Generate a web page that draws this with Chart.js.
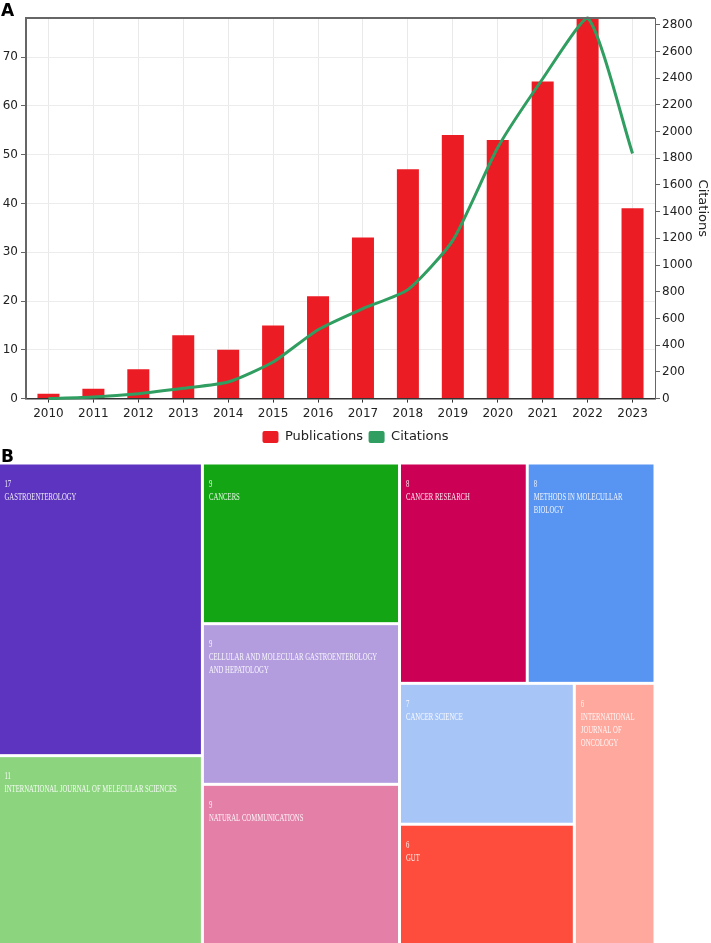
<!DOCTYPE html>
<html>
<head>
<meta charset="utf-8">
<script src="https://cdn.jsdelivr.net/npm/chart.js@4.4.0/dist/chart.umd.min.js"></script>
<style>
  html, body { margin: 0; padding: 0; background: #fff; }
  body { width: 711px; height: 943px; position: relative; overflow: hidden; font-family: "DejaVu Sans", sans-serif; }
  .panel-label { position: absolute; left: 1px; font-weight: bold; font-size: 17px; line-height: 1; color: #000; }
  #wrapA { position: absolute; left: 0; top: 0; width: 711px; height: 464px; }
  #wrapB { position: absolute; left: -2px; top: 463px; width: 657px; height: 482px; }
</style>
</head>
<body>
<div id="wrapA"><canvas id="pubChart" width="711" height="464"></canvas></div>
<div id="wrapB"><canvas id="journalChart" width="657" height="482"></canvas></div>
<div class="panel-label" style="top:2px">A</div>
<div class="panel-label" style="top:448px">B</div>
<script>
// panel A data
const years = ['2010', '2011', '2012', '2013', '2014', '2015', '2016', '2017', '2018', '2019', '2020', '2021', '2022', '2023'];
const publications = [1, 2, 6, 13, 10, 15, 21, 33, 47, 54, 53, 65, 79, 39];
const citations = [0, 12, 37, 77, 124, 274, 516, 674, 816, 1185, 1880, 2395, 2850, 1836];

// panel B data
const journals = [
    'GASTROENTEROLOGY',
    'INTERNATIONAL JOURNAL OF MELECULAR SCIENCES',
    'CANCERS',
    'CELLULAR AND MOLECULAR GASTROENTEROLOGY AND HEPATOLOGY',
    'NATURAL COMMUNICATIONS',
    'CANCER RESEARCH',
    'METHODS IN MOLECULLAR BIOLOGY',
    'CANCER SCIENCE',
    'GUT',
    'INTERNATIONAL JOURNAL OF ONCOLOGY'
];
const journalCounts = [17, 11, 9, 9, 9, 8, 8, 7, 6, 6];
const journalColors = ['#5d34bf', '#8dd47f', '#14a514', '#b39ddf', '#e47fa8', '#cc0055', '#5894f2', '#a8c5f7', '#ff4d3d', '#ffa89e'];

const FONT = '"DejaVu Sans", Verdana, sans-serif';
const RED = '#ec1c24';
const GREEN = '#2f9e60';

// round ticks only, from 0 up to the axis max
const roundTicks = step => axis => {
    axis.ticks = [];
    for (let v = 0; v <= axis.max; v += step) axis.ticks.push({ value: v });
};

// top frame line of the plot
const topLine = {
    id: 'topLine',
    afterDraw(chart) {
        const { ctx, chartArea } = chart;
        ctx.save();
        ctx.strokeStyle = '#666';
        ctx.lineWidth = 2;
        ctx.beginPath();
        ctx.moveTo(chartArea.left, chartArea.top);
        ctx.lineTo(chartArea.right, chartArea.top);
        ctx.stroke();
        ctx.restore();
    }
};

new Chart(document.getElementById('pubChart'), {
    type: 'bar',
    data: {
        labels: years,
        datasets: [
            {
                label: 'Publications',
                data: publications,
                backgroundColor: RED,
                barPercentage: 0.49,
                categoryPercentage: 1,
                yAxisID: 'y',
                order: 1
            },
            {
                type: 'line',
                label: 'Citations',
                data: citations,
                borderColor: GREEN,
                backgroundColor: GREEN,
                borderWidth: 3,
                pointRadius: 0,
                tension: 0.2,
                fill: false,
                clip: 6,
                yAxisID: 'y1',
                order: 0
            }
        ]
    },
    options: {
        responsive: false,
        animation: false,
        layout: { padding: { top: 18, bottom: 10.5 } },
        scales: {
            x: {
                offset: true,
                grid: { offset: false, color: '#e9e9e9', tickColor: '#333', tickLength: 4 },
                border: { color: '#333', width: 1.5 },
                ticks: { font: { family: FONT, size: 12 }, color: '#222', padding: 4 }
            },
            y: {
                position: 'left',
                min: 0,
                max: 78,
                ticks: { font: { family: FONT, size: 12 }, color: '#222', padding: 3 },
                grid: { color: '#ececec', tickColor: '#666', tickLength: 5 },
                border: { color: '#666', width: 2 },
                afterBuildTicks: roundTicks(10),
                afterFit: s => { s.width = 26; }
            },
            y1: {
                position: 'right',
                min: 0,
                max: 2850,
                ticks: { font: { family: FONT, size: 12 }, color: '#222', padding: 2, callback: v => String(v) },
                grid: { drawOnChartArea: false, tickColor: '#666', tickLength: 5 },
                border: { color: '#666', width: 1 },
                title: { display: true, text: 'Citations', font: { family: FONT, size: 13 }, color: '#222', padding: 1 },
                afterBuildTicks: roundTicks(200),
                afterFit: s => { s.width = 56; }
            }
        },
        plugins: {
            legend: {
                position: 'bottom',
                labels: {
                    font: { family: FONT, size: 13 },
                    color: '#222',
                    boxWidth: 16,
                    boxHeight: 12,
                    padding: 5.5,
                    useBorderRadius: true,
                    borderRadius: 2,
                    sort: (a, b) => a.datasetIndex - b.datasetIndex,
                    generateLabels: chart => Chart.defaults.plugins.legend.labels.generateLabels(chart)
                        .map(item => Object.assign(item, { lineWidth: 0 }))
                }
            },
            tooltip: { enabled: false }
        }
    },
    plugins: [topLine]
});

// squarified treemap layout in layout units
const LAYOUT_W = 1.5;
const LAYOUT_H = 1;

function worst(areas, sum, side) {
    let w = 0;
    areas.forEach(a => {
        w = Math.max(w, side * side * a / (sum * sum), (sum * sum) / (side * side * a));
    });
    return w;
}

function squarify(values, W, H) {
    const total = values.reduce((s, v) => s + v, 0);
    const areas = values.map(v => v / total * W * H);
    const out = [];
    let x = 0, y = 0, w = W, h = H, i = 0;
    while (i < areas.length) {
        const side = Math.min(w, h);
        let row = [areas[i]], sum = areas[i], best = worst(row, sum, side), j = i + 1;
        while (j < areas.length) {
            const next = row.concat(areas[j]);
            const score = worst(next, sum + areas[j], side);
            if (score > best) break;
            row = next; sum += areas[j]; best = score; j++;
        }
        if (w >= h) {
            const cw = sum / h;
            let cy = y;
            row.forEach((a, k) => { out[i + k] = { x0: x, y0: cy, x1: x + cw, y1: cy + a / cw }; cy += a / cw; });
            x += cw; w -= cw;
        } else {
            const rh = sum / w;
            let cx = x;
            row.forEach((a, k) => { out[i + k] = { x0: cx, y0: y, x1: cx + a / rh, y1: y + rh }; cx += a / rh; });
            y += rh; h -= rh;
        }
        i = j;
    }
    return out;
}

// wrap words, breaking a word by letters when it does not fit
function wrapText(ctx, text, maxW) {
    const lines = [];
    let line = '';
    text.split(' ').forEach(word => {
        const tryLine = line ? line + ' ' + word : word;
        if (ctx.measureText(tryLine).width <= maxW) { line = tryLine; return; }
        if (line) { lines.push(line); line = ''; }
        let piece = '';
        for (const ch of word) {
            if (ctx.measureText(piece + ch).width > maxW && piece) { lines.push(piece); piece = ch; }
            else piece += ch;
        }
        line = piece;
    });
    if (line) lines.push(line);
    return lines;
}

const GAP = 3;
const SQUEEZE = 0.61;

const treemapCells = {
    id: 'treemapCells',
    afterDatasetsDraw(chart) {
        const { ctx, scales: { x, y } } = chart;
        const cells = squarify(journalCounts, LAYOUT_W, LAYOUT_H);
        cells.forEach((c, i) => {
            const left = x.getPixelForValue(c.x0) + GAP / 2;
            const right = x.getPixelForValue(c.x1) - GAP / 2;
            const top = y.getPixelForValue(c.y0) + GAP / 2;
            const bottom = y.getPixelForValue(c.y1) - GAP / 2;
            ctx.save();
            ctx.fillStyle = journalColors[i];
            ctx.fillRect(left, top, right - left, bottom - top);
            ctx.beginPath();
            ctx.rect(left, top, right - left, bottom - top);
            ctx.clip();
            ctx.font = '11px "Liberation Serif", "Times New Roman", serif';
            ctx.fillStyle = 'rgba(255,255,255,0.9)';
            ctx.textBaseline = 'alphabetic';
            const lines = [String(journalCounts[i])].concat(wrapText(ctx, journals[i], (right - left - 10) / SQUEEZE));
            lines.forEach((ln, k) => {
                ctx.save();
                ctx.translate(left + 5, top + 22 + k * 13);
                ctx.scale(SQUEEZE, 1);
                ctx.fillText(ln, 0, 0);
                ctx.restore();
            });
            ctx.restore();
        });
    }
};

new Chart(document.getElementById('journalChart'), {
    type: 'scatter',
    data: { datasets: [] },
    options: {
        responsive: false,
        animation: false,
        layout: { padding: 0 },
        scales: {
            x: { type: 'linear', min: 0, max: LAYOUT_W, display: false },
            y: { type: 'linear', min: 0, max: LAYOUT_H, reverse: true, display: false }
        },
        plugins: { legend: { display: false }, tooltip: { enabled: false } }
    },
    plugins: [treemapCells]
});
</script>
</body>
</html>
